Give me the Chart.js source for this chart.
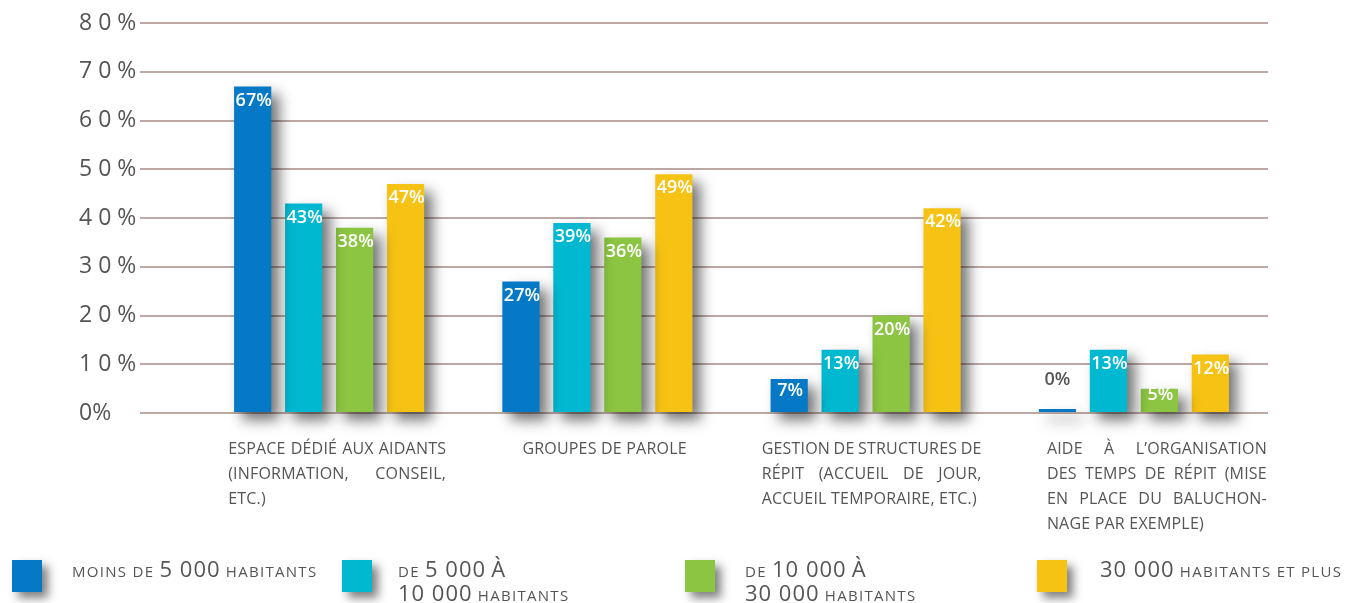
<!DOCTYPE html>
<html><head><meta charset="utf-8">
<script src="https://cdn.jsdelivr.net/npm/chart.js@4/dist/chart.umd.min.js"></script>
<style>html,body{margin:0;padding:0;background:#fff;overflow:hidden}#wrap{width:1350px;height:603px;position:relative}</style>
</head><body><div id="wrap"><canvas id="c" width="1350" height="603"></canvas></div>
<script>
// ---- DATA ----
const categories = ['Espace dédié aux aidants', 'Groupes de parole', 'Gestion de structures de répit', 'Aide à l’organisation des temps de répit'];
const categoryLines = [
  ['ESPACE DÉDIÉ AUX AIDANTS', '(INFORMATION,  CONSEIL,', 'ETC.)'],
  ['GROUPES DE PAROLE'],
  ['GESTION DE STRUCTURES DE', 'RÉPIT  (ACCUEIL  DE  JOUR,', 'ACCUEIL TEMPORAIRE, ETC.)'],
  ['AIDE  À  L’ORGANISATION', 'DES TEMPS DE RÉPIT (MISE', 'EN  PLACE  DU  BALUCHON-', 'NAGE PAR EXEMPLE)']
];
const seriesNames = ['Moins de 5 000 habitants', 'De 5 000 à 10 000 habitants', 'De 10 000 à 30 000 habitants', '30 000 habitants et plus'];
const legendLines = [
  ['MOINS DE 5 000 HABITANTS'],
  ['DE 5 000 À', '10 000 HABITANTS'],
  ['DE 10 000 À', '30 000 HABITANTS'],
  ['30 000 HABITANTS ET PLUS']
];
const under5k = [67, 27, 7, 0];
const from5kTo10k = [43, 39, 13, 13];
const from10kTo30k = [38, 36, 20, 5];
const over30k = [47, 49, 42, 12];
const yTickLabels = ['0%', '1 0 %', '2 0 %', '3 0 %', '4 0 %', '5 0 %', '6 0 %', '7 0 %', '8 0 %'];

// ---- STYLE ----
const colors = ['#0579c6', '#00b8cf', '#8bc541', '#f6c314'];
const FONT = '"Open Sans", "Noto Sans", sans-serif';

const shadowPlugin = {
  id: 'barShadow',
  beforeDatasetsDraw(chart) {
    const ctx = chart.ctx;
    ctx.save();
    ctx.shadowColor = 'rgba(0,0,0,0.55)';
    ctx.shadowBlur = 14;
    ctx.shadowOffsetX = 8;
    ctx.shadowOffsetY = 8;
  },
  afterDatasetsDraw(chart) {
    chart.ctx.restore();
  }
};

const valueLabelPlugin = {
  id: 'valueLabels',
  afterDatasetsDraw(chart) {
    const ctx = chart.ctx;
    ctx.save();
    ctx.font = '600 18px ' + FONT;
    ctx.textAlign = 'center';
    ctx.textBaseline = 'middle';
    chart.data.datasets.forEach((ds, i) => {
      const meta = chart.getDatasetMeta(i);
      meta.data.forEach((el, j) => {
        const v = ds.data[j];
        const txt = v + '%';
        if (v === 0) {
          ctx.fillStyle = '#555';
          ctx.fillText(txt, el.x, el.y - 29);
        } else {
          ctx.fillStyle = '#ffffff';
          const y = Math.min(el.y + 14, (el.y + el.base) / 2 - 5);
          ctx.fillText(txt, el.x + 1, y);
        }
      });
    });
    ctx.restore();
  }
};

const catLabelPlugin = {
  id: 'catLabels',
  afterDraw(chart, args, opts) {
    const ctx = chart.ctx;
    const xs = chart.scales.x;
    ctx.save();
    ctx.font = '16px ' + FONT;
    if ('letterSpacing' in ctx) ctx.letterSpacing = '0.2px';
    ctx.fillStyle = '#555';
    ctx.textBaseline = 'middle';
    ctx.textAlign = 'left';
    categoryLines.forEach((lines, i) => {
      const cx = xs.getPixelForValue(i);
      const box = opts.boxes[i];
      const left = cx + box.dx;
      lines.forEach((line, k) => {
        const y = opts.top + k * opts.lineHeight;
        const justify = box.justify && k < lines.length - 1;
        if (!justify) {
          ctx.fillText(line, left, y, box.w);
          return;
        }
        const words = line.split(/\s+/);
        const ww = words.map(w => ctx.measureText(w).width);
        const total = ww.reduce((a, b) => a + b, 0);
        const gap = words.length > 1 ? (box.w - total) / (words.length - 1) : 0;
        if (gap < 3) { ctx.fillText(line, left, y, box.w); return; }
        let x = left;
        words.forEach((w, m) => { ctx.fillText(w, x, y); x += ww[m] + gap; });
      });
    });
    ctx.restore();
  }
};

function drawMixed(ctx, text, x, y) {
  const parts = text.split(/(\d[\d ]*\d|\d|À)/).filter(s => s.length);
  parts.forEach(p => {
    const big = /^(\d[\d ]*\d|\d|À)$/.test(p);
    ctx.font = (big ? '22px ' : '15px ') + FONT;
    if ('letterSpacing' in ctx) ctx.letterSpacing = big ? '1px' : '1.3px';
    ctx.fillText(p, x, y);
    x += ctx.measureText(p).width;
  });
}

const legendPlugin = {
  id: 'customLegend',
  afterDraw(chart, args, opts) {
    const ctx = chart.ctx;
    ctx.save();
    chart.data.datasets.forEach((ds, i) => {
      const x = opts.xs[i];
      ctx.save();
      ctx.shadowColor = 'rgba(0,0,0,0.5)';
      ctx.shadowBlur = 10;
      ctx.shadowOffsetX = 6;
      ctx.shadowOffsetY = 6;
      ctx.fillStyle = ds.backgroundColor;
      ctx.fillRect(x, opts.y, 30, 32);
      ctx.restore();
      ctx.fillStyle = '#555';
      ctx.textBaseline = 'alphabetic';
      ctx.textAlign = 'left';
      legendLines[i].forEach((line, k) => {
        drawMixed(ctx, line, x + opts.textDx[i], opts.baseline + k * 24);
      });
    });
    ctx.restore();
  }
};

const datasets = [under5k, from5kTo10k, from10kTo30k, over30k].map((d, i) => ({
  label: seriesNames[i],
  data: d,
  backgroundColor: colors[i],
  borderWidth: 0,
  minBarLength: 4,
  clip: false,
  categoryPercentage: 0.76,
  barPercentage: 0.73
}));

new Chart(document.getElementById('c'), {
  type: 'bar',
  data: { labels: categories, datasets },
  options: {
    responsive: false,
    animation: false,
    devicePixelRatio: 1,
    layout: { padding: { left: 79, right: 82, top: 23, bottom: 190 } },
    plugins: {
      legend: { display: false },
      tooltip: { enabled: false },
      catLabels: {
        top: 449, lineHeight: 25,
        boxes: [
          { dx: -101, w: 218, justify: true },
          { dx: -75, w: 200, justify: false },
          { dx: -104, w: 220, justify: true },
          { dx: -87, w: 220, justify: true }
        ]
      },
      customLegend: { xs: [12, 342, 685, 1037], textDx: [60, 56, 60, 63], y: 560, baseline: 577 }
    },
    scales: {
      x: { display: false },
      y: {
        min: 0, max: 80,
        afterFit(scale) { scale.width = 116; },
        ticks: {
          stepSize: 10,
          padding: 3,
          crossAlign: 'far',
          color: '#555',
          font: { family: FONT, size: 23 },
          callback: (v) => yTickLabels[Math.round(v / 10)]
        },
        grid: { color: '#bca9a5', lineWidth: 2, tickLength: 55, drawTicks: true },
        border: { display: false }
      }
    }
  },
  plugins: [shadowPlugin, valueLabelPlugin, catLabelPlugin, legendPlugin]
});
</script>
</body></html>
